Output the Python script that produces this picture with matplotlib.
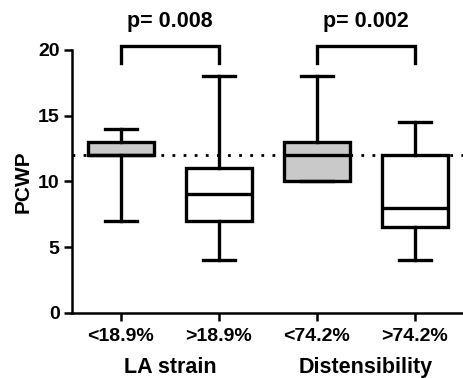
import matplotlib
matplotlib.use('Agg')
import matplotlib.pyplot as plt

plt.rcParams['font.family'] = 'Liberation Sans'
plt.rcParams['font.weight'] = 'bold'

# data
groups = ['<18.9%', '>18.9%', '<74.2%', '>74.2%']
whislo = [7, 4, 10, 4]
q1 = [12, 7, 10, 6.5]
med = [12, 9, 12, 8]
q3 = [13, 11, 13, 12]
whishi = [14, 18, 18, 14.5]
fills = ['#c9c9c9', 'white', '#c9c9c9', 'white']
ref_level = 12
pairs = [(1, 2), (3, 4)]
pvals = ['p= 0.008', 'p= 0.002']
categories = ['LA strain', 'Distensibility']

fig = plt.figure(figsize=(4.64, 3.78), dpi=100)
ax = fig.add_axes([72 / 464, 65.3 / 378, 1 - 72 / 464, 262.7 / 378])

lw = 2.4
ax.axhline(ref_level, color='black', lw=2, ls=(0, (1, 3)), zorder=1)

stats = []
for i in range(len(groups)):
    stats.append(dict(whislo=whislo[i], q1=q1[i], med=med[i], q3=q3[i],
                      whishi=whishi[i], fliers=[]))
bp = ax.bxp(stats, positions=[1, 2, 3, 4], widths=0.68, capwidths=0.33,
            patch_artist=True, showfliers=False,
            boxprops=dict(linewidth=lw, edgecolor='black'),
            medianprops=dict(linewidth=lw, color='black'),
            whiskerprops=dict(linewidth=lw, color='black'),
            capprops=dict(linewidth=lw, color='black'))
for patch, c in zip(bp['boxes'], fills):
    patch.set_facecolor(c)
    patch.set_zorder(2)

# significance brackets
for (a, b), p in zip(pairs, pvals):
    ax.plot([a, a, b, b], [19.0, 20.3, 20.3, 19.0], color='black', lw=lw,
            clip_on=False, solid_joinstyle='miter')
    ax.text((a + b) / 2, 22.2, p, ha='center', va='center', fontsize=15.5,
            fontweight='bold')

ax.set_xlim(0.5, 4.5)
ax.set_ylim(0, 20)
ax.set_yticks([0, 5, 10, 15, 20])
ax.set_xticks([1, 2, 3, 4])
ax.set_xticklabels(groups)
ax.tick_params(axis='x', labelsize=14, width=1.8, length=6, pad=5)
ax.tick_params(axis='y', labelsize=14, width=1.8, length=6, pad=3)
ax.set_ylabel('PCWP', fontsize=15, fontweight='bold', labelpad=3.5)

for (a, b), name in zip(pairs, categories):
    ax.text((a + b) / 2, -0.21, name, transform=ax.get_xaxis_transform(),
            ha='center', va='center', fontsize=15.5, fontweight='bold')

ax.spines['top'].set_visible(False)
ax.spines['right'].set_visible(False)
ax.spines['left'].set_linewidth(1.8)
ax.spines['bottom'].set_linewidth(1.8)

fig.savefig('out.png', dpi=100)
